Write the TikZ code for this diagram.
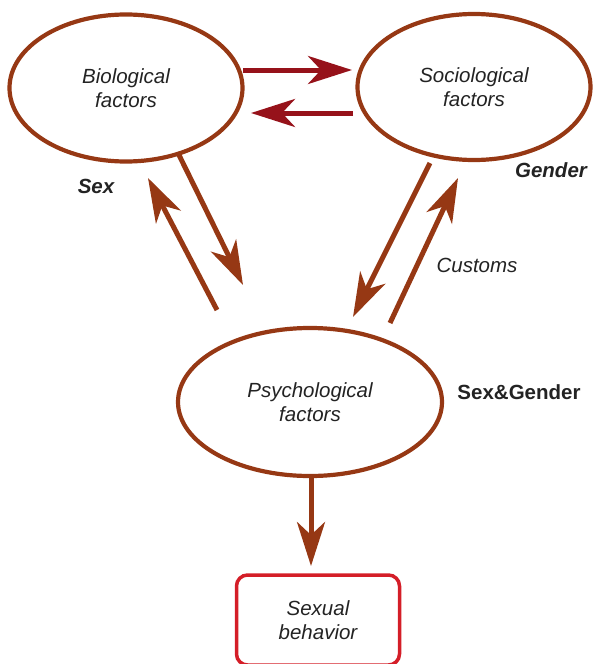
\documentclass[tikz,border=0pt]{standalone}
\usepackage{fontspec}
\setmainfont{Liberation Sans}
\usetikzlibrary{arrows.meta,shapes.geometric}
\definecolor{brn}{RGB}{150,56,20}
\definecolor{drd}{RGB}{150,18,26}
\definecolor{bxred}{RGB}{212,30,40}
\definecolor{txt}{RGB}{35,35,35}
\tikzset{
  factor/.style={ellipse,draw=brn,line width=4.2pt,inner sep=0pt,font=\fontsize{20.5}{24}\selectfont\itshape,text=txt,align=center},
  conn/.style={draw=brn,line width=5pt,-{Stealth[length=44pt,width=28pt,inset=13pt]}},
  rconn/.style={draw=drd,line width=5pt,-{Stealth[length=44pt,width=28pt,inset=13pt]}},
  lbl/.style={font=\fontsize{20.5}{24}\selectfont\bfseries\itshape,text=txt},
}
\begin{document}
\begin{tikzpicture}[x=1pt,y=-1pt]
\useasboundingbox (0,0) rectangle (595,664);
\node[factor,minimum width=233pt,minimum height=147pt] (bio) at (126,88) {Biological\\factors};
\node[factor,minimum width=233pt,minimum height=146pt] (soc) at (474,87) {Sociological\\factors};
\node[factor,minimum width=264pt,minimum height=148pt] (psy) at (310,402) {Psychological\\factors};
\node[draw=bxred,line width=3.5pt,rounded corners=11pt,minimum width=163pt,minimum height=90pt,font=\fontsize{20.5}{24}\selectfont\itshape,text=txt,align=center] (sb) at (318,620) {Sexual\\behavior};
\node[lbl] (sex) at (96,186) {Sex};
\node[lbl] (gen) at (551,170) {Gender};
\node[font=\fontsize{20.5}{24}\selectfont\bfseries,text=txt] (sg) at (519,392) {Sex\&Gender};
\node[font=\fontsize{20.5}{24}\selectfont\itshape,text=txt] (cus) at (477,265) {Customs};
% coordinates for connector ends
\coordinate (a1) at (243,70); \coordinate (a2) at (352,70);
\coordinate (b1) at (353,113); \coordinate (b2) at (251,113);
\coordinate (c1) at (178,153); \coordinate (c2) at (243,285);
\coordinate (d1) at (217,310); \coordinate (d2) at (148,178);
\coordinate (e1) at (430,163); \coordinate (e2) at (353,317);
\coordinate (f1) at (390,323); \coordinate (f2) at (458,178);
\coordinate (g1) at (311,477); \coordinate (g2) at (311,566);
\draw[rconn] (a1) -- (a2);
\draw[rconn] (b1) -- (b2);
\draw[conn] (c1) -- (c2);
\draw[conn] (d1) -- (d2);
\draw[conn] (e1) -- (e2);
\draw[conn] (f1) -- (f2);
\draw[conn] (g1) -- (g2);
\end{tikzpicture}
\end{document}
